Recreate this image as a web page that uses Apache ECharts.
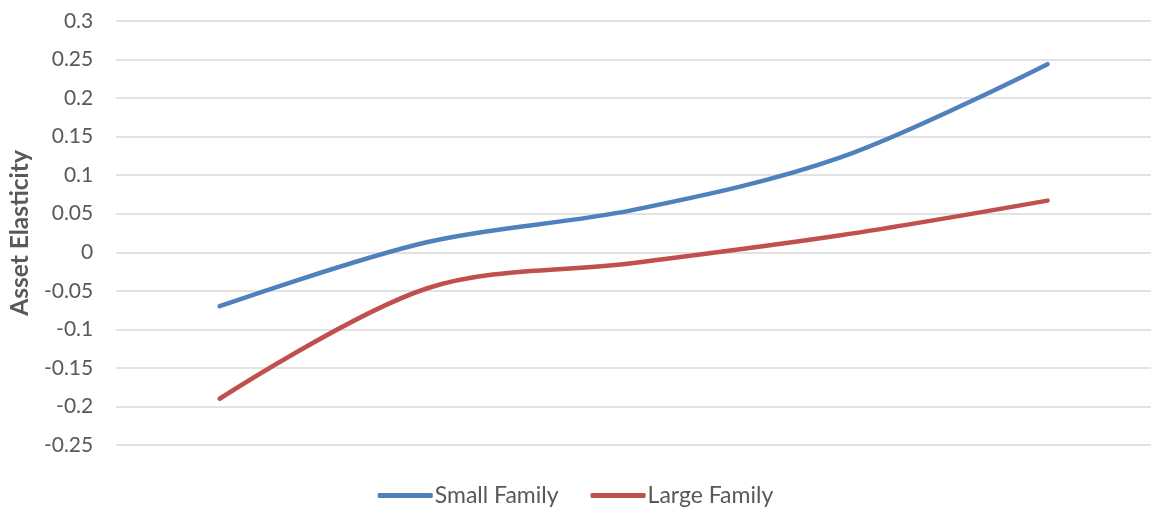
<!DOCTYPE html>
<html>
<head>
<meta charset="utf-8">
<script src="https://cdn.jsdelivr.net/npm/echarts@6/dist/echarts.min.js"></script>
<style>html,body{margin:0;padding:0;background:#fff}#c{width:1151px;height:512px}</style>
</head>
<body>
<div id="c"></div>
<script>
var categories = ['1', '2', '3', '4', '5'];
var smallFamily = [-0.070, 0.013, 0.055, 0.123, 0.244];
var largeFamily = [-0.190, -0.047, -0.014, 0.022, 0.067];
var seriesNames = ['Small Family', 'Large Family'];
var yAxisName = 'Asset Elasticity';

var chart = echarts.init(document.getElementById('c'));
chart.setOption({
  animation: false,
  textStyle: { fontFamily: 'Lato, "Open Sans", sans-serif' },
  grid: { left: 113, right: -2, top: 21, bottom: 67 },
  legend: {
    bottom: 0,
    left: 'center',
    icon: 'roundRect',
    itemWidth: 55,
    itemHeight: 5,
    itemGap: 32,
    textStyle: { color: '#595959', fontSize: 23, fontFamily: 'Lato, sans-serif', padding: [0, 0, 0, -3] },
    data: seriesNames
  },
  xAxis: {
    type: 'category',
    data: categories,
    boundaryGap: true,
    axisLine: { show: false },
    axisTick: { show: false },
    axisLabel: { show: false },
    splitLine: { show: false }
  },
  yAxis: {
    type: 'value',
    min: -0.25,
    max: 0.3,
    interval: 0.05,
    name: yAxisName,
    nameLocation: 'middle',
    nameGap: 83,
    nameTextStyle: { color: '#595959', fontSize: 24.5, fontWeight: 'bold', fontFamily: 'Lato, sans-serif' },
    axisLine: { show: false },
    axisTick: { show: false },
    axisLabel: {
      color: '#595959',
      fontSize: 21,
      margin: 23,
      formatter: function (v) { return String(parseFloat(v.toFixed(2))); }
    },
    splitLine: { lineStyle: { color: '#d9d9d9', width: 1.5 } }
  },
  series: [
    {
      name: seriesNames[0],
      type: 'line',
      data: smallFamily,
      smooth: 0.33,
      symbol: 'none',
      lineStyle: { color: '#4F81BD', width: 4.5, cap: 'round' },
      itemStyle: { color: '#4F81BD' }
    },
    {
      name: seriesNames[1],
      type: 'line',
      data: largeFamily,
      smooth: 0.33,
      symbol: 'none',
      lineStyle: { color: '#C0504D', width: 4.5, cap: 'round' },
      itemStyle: { color: '#C0504D' }
    }
  ]
});
</script>
</body>
</html>
